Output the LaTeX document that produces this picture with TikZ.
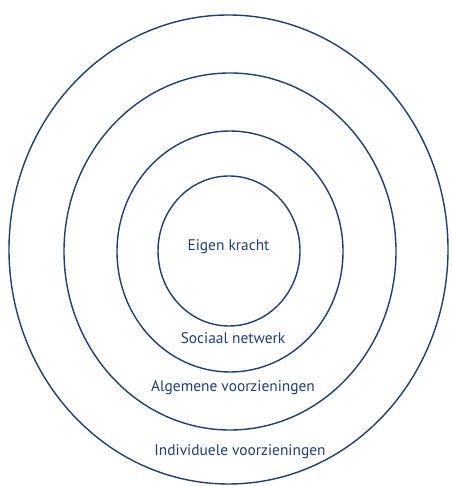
\documentclass[tikz,border=0pt]{standalone}
\usepackage{fontspec}
\setmainfont{PT Sans}
\usetikzlibrary{shapes.geometric}
\definecolor{navy}{RGB}{32,62,110}
\begin{document}
\begin{tikzpicture}[x=1pt,y=1pt,
  ring/.style={draw=navy,line width=1.4pt,ellipse,inner sep=0pt,outer sep=0pt},
  lbl/.style={text=navy,font=\fontsize{15.4}{17}\selectfont,inner sep=0pt,anchor=base}]
\useasboundingbox (0,0) rectangle (451,486);
\node[ring,minimum width=439,minimum height=469] (outer) at (228.5,236.5) {};
\node[ring,minimum width=332,minimum height=357] (second) at (230,234.5) {};
\node[ring,minimum width=226,minimum height=241] (third) at (230,234.5) {};
\node[ring,minimum width=142,minimum height=150] (inner) at (229,235) {};
\node[lbl] (eigen) at (228.5,235) {Eigen kracht};
\node[lbl] (sociaal) at (233,142) {Sociaal netwerk};
\node[lbl] (algemeen) at (233,94) {Algemene voorzieningen};
\node[lbl] (indiv) at (240,30) {Individuele voorzieningen};
\end{tikzpicture}
\end{document}
